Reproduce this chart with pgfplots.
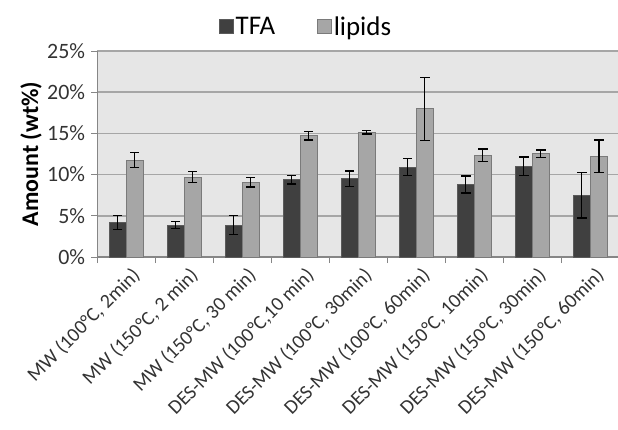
\documentclass[border=0pt]{standalone}
\usepackage{pgfplots}
\pgfplotsset{compat=1.18}
\usepackage{pgfplotstable}
\usepackage{fontspec}
\setmainfont{Carlito}

\definecolor{bgc}{HTML}{E6E6E6}
\definecolor{gridc}{HTML}{A6A6A6}
\definecolor{axisc}{HTML}{868686}
\definecolor{tfac}{HTML}{404040}
\definecolor{tfaedge}{HTML}{5A5A5A}
\definecolor{lipc}{HTML}{A6A6A6}
\definecolor{lipedge}{HTML}{7A7A7A}
\definecolor{txtc}{HTML}{333333}

% idx  mean  error
\pgfplotstableread{
x  tfa    tfaerr  lip    liperr
0  4.20   0.85    11.76  0.90
1  3.88   0.42    9.70   0.65
2  3.88   1.13    9.09   0.58
3  9.37   0.50    14.71  0.53
4  9.50   0.95    15.15  0.23
5  10.90  1.03    17.98  3.84
6  8.80   1.05    12.36  0.75
7  11.03  1.13    12.52  0.45
8  7.47   2.75    12.24  1.96
}\datatable

\begin{document}
\begin{tikzpicture}
\begin{axis}[
    name=ax,
    scale only axis,
    width=522bp, height=206bp,
    xmin=-0.5, xmax=8.5,
    ymin=0, ymax=25,
    axis background/.style={fill=bgc},
    axis lines*=left,
    axis line style={-, draw=axisc, line width=1.2bp},
    ytick={0,5,...,25},
    yticklabels={0\%,5\%,10\%,15\%,20\%,25\%},
    ymajorgrids,
    grid style={gridc, line width=1.5bp},
    xtick={0,...,8},
    xticklabels={
        {MW (100°C, 2min)},
        {MW (150°C, 2 min)},
        {MW (150°C, 30 min)},
        {DES-MW (100°C,10 min)},
        {DES-MW (100°C, 30min)},
        {DES-MW (100°C, 60min)},
        {DES-MW (150°C, 10min)},
        {DES-MW (150°C, 30min)},
        {DES-MW (150°C, 60min)}},
    minor xtick={-0.5,0.5,...,7.5},
    tick align=outside,
    major tick length=6bp,
    minor tick length=6bp,
    x tick style={draw=none},
    minor x tick style={draw=axisc, line width=1bp},
    y tick style={draw=axisc, line width=1bp},
    yticklabel style={font=\fontsize{22}{26}\selectfont, text=txtc, inner sep=2bp, xshift=-4bp},
    xticklabel style={font=\fontsize{20}{24}\selectfont, text=txtc,
        rotate=45, anchor=east, inner sep=1bp, yshift=-14bp, xshift=2bp},
    ylabel={\textbf{Amount (wt\%)}},
    ylabel style={font=\fontsize{24}{28}\selectfont, black},
    ybar, bar width=17bp,
    legend columns=2,
    legend style={at={(rel axis cs:0.40,1)}, anchor=south, yshift=10bp,
        draw=none, fill=none, font=\fontsize{27}{30}\selectfont,
        /tikz/every even column/.append style={column sep=40bp}},
    legend image code/.code={\draw[#1, line width=1bp] (0bp,-6.8bp) rectangle (13.6bp,6.8bp);},
    error bars/error bar style={black, line width=1.4bp},
    error bars/error mark options={rotate=90, mark size=4.7bp, black, line width=1.4bp},
]
\addplot[fill=tfac, draw=tfaedge, line width=1bp, bar shift=-8.5bp,
    error bars/.cd, y dir=both, y explicit]
    table[x=x, y=tfa, y error=tfaerr] {\datatable};
\addplot[fill=lipc, draw=lipedge, line width=1bp, bar shift=8.5bp,
    error bars/.cd, y dir=both, y explicit]
    table[x=x, y=lip, y error=liperr] {\datatable};
\legend{TFA, lipids}
\end{axis}
\pgfresetboundingbox
\path (ax.south west) ++(-97.3bp,-173bp) rectangle ++(618bp,430bp);
\end{tikzpicture}
\end{document}
